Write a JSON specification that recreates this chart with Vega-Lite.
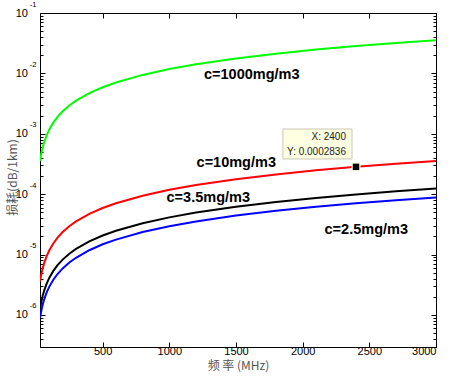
{
  "$schema": "https://vega.github.io/schema/vega-lite/v6.json",
  "width": 396,
  "height": 334,
  "autosize": {"type": "none"},
  "padding": {"left": 40, "top": 13, "right": 17, "bottom": 35},
  "background": "white",
  "config": {
    "view": {"stroke": "#000", "strokeWidth": 1},
    "axis": {"grid": false, "domainColor": "#000", "tickColor": "#000", "labelColor": "#000", "labelFont": "Liberation Sans", "labelFontSize": 11, "titleFont": "Noto Sans CJK SC", "titleFontWeight": "normal", "titleColor": "#555", "titleFontSize": 12}
  },
  "datasets": {
    "curves": [
      {"f": 30, "c": "c=1000mg/m3", "loss": 3.54e-4}, {"f": 40, "c": "c=1000mg/m3", "loss": 4.72e-4}, {"f": 50, "c": "c=1000mg/m3", "loss": 5.9e-4}, {"f": 60, "c": "c=1000mg/m3", "loss": 7.08e-4}, {"f": 80, "c": "c=1000mg/m3", "loss": 9.44e-4}, {"f": 100, "c": "c=1000mg/m3", "loss": 1.18e-3}, {"f": 130, "c": "c=1000mg/m3", "loss": 1.53e-3}, {"f": 160, "c": "c=1000mg/m3", "loss": 1.89e-3}, {"f": 200, "c": "c=1000mg/m3", "loss": 2.36e-3}, {"f": 250, "c": "c=1000mg/m3", "loss": 2.95e-3}, {"f": 300, "c": "c=1000mg/m3", "loss": 3.54e-3}, {"f": 400, "c": "c=1000mg/m3", "loss": 4.72e-3}, {"f": 500, "c": "c=1000mg/m3", "loss": 5.9e-3}, {"f": 600, "c": "c=1000mg/m3", "loss": 7.08e-3}, {"f": 800, "c": "c=1000mg/m3", "loss": 9.44e-3}, {"f": 1000, "c": "c=1000mg/m3", "loss": 1.18e-2}, {"f": 1200, "c": "c=1000mg/m3", "loss": 1.42e-2}, {"f": 1500, "c": "c=1000mg/m3", "loss": 1.77e-2}, {"f": 1800, "c": "c=1000mg/m3", "loss": 2.12e-2}, {"f": 2100, "c": "c=1000mg/m3", "loss": 2.48e-2}, {"f": 2400, "c": "c=1000mg/m3", "loss": 2.83e-2}, {"f": 2700, "c": "c=1000mg/m3", "loss": 3.19e-2}, {"f": 3000, "c": "c=1000mg/m3", "loss": 3.54e-2},
      {"f": 30, "c": "c=10mg/m3", "loss": 3.54e-6}, {"f": 40, "c": "c=10mg/m3", "loss": 4.72e-6}, {"f": 50, "c": "c=10mg/m3", "loss": 5.9e-6}, {"f": 60, "c": "c=10mg/m3", "loss": 7.08e-6}, {"f": 80, "c": "c=10mg/m3", "loss": 9.44e-6}, {"f": 100, "c": "c=10mg/m3", "loss": 1.18e-5}, {"f": 130, "c": "c=10mg/m3", "loss": 1.53e-5}, {"f": 160, "c": "c=10mg/m3", "loss": 1.89e-5}, {"f": 200, "c": "c=10mg/m3", "loss": 2.36e-5}, {"f": 250, "c": "c=10mg/m3", "loss": 2.95e-5}, {"f": 300, "c": "c=10mg/m3", "loss": 3.54e-5}, {"f": 400, "c": "c=10mg/m3", "loss": 4.72e-5}, {"f": 500, "c": "c=10mg/m3", "loss": 5.9e-5}, {"f": 600, "c": "c=10mg/m3", "loss": 7.08e-5}, {"f": 800, "c": "c=10mg/m3", "loss": 9.44e-5}, {"f": 1000, "c": "c=10mg/m3", "loss": 1.18e-4}, {"f": 1200, "c": "c=10mg/m3", "loss": 1.42e-4}, {"f": 1500, "c": "c=10mg/m3", "loss": 1.77e-4}, {"f": 1800, "c": "c=10mg/m3", "loss": 2.12e-4}, {"f": 2100, "c": "c=10mg/m3", "loss": 2.48e-4}, {"f": 2400, "c": "c=10mg/m3", "loss": 2.836e-4}, {"f": 2700, "c": "c=10mg/m3", "loss": 3.19e-4}, {"f": 3000, "c": "c=10mg/m3", "loss": 3.54e-4},
      {"f": 30, "c": "c=3.5mg/m3", "loss": 1.24e-6}, {"f": 40, "c": "c=3.5mg/m3", "loss": 1.65e-6}, {"f": 50, "c": "c=3.5mg/m3", "loss": 2.07e-6}, {"f": 60, "c": "c=3.5mg/m3", "loss": 2.48e-6}, {"f": 80, "c": "c=3.5mg/m3", "loss": 3.3e-6}, {"f": 100, "c": "c=3.5mg/m3", "loss": 4.13e-6}, {"f": 130, "c": "c=3.5mg/m3", "loss": 5.37e-6}, {"f": 160, "c": "c=3.5mg/m3", "loss": 6.61e-6}, {"f": 200, "c": "c=3.5mg/m3", "loss": 8.26e-6}, {"f": 250, "c": "c=3.5mg/m3", "loss": 1.03e-5}, {"f": 300, "c": "c=3.5mg/m3", "loss": 1.24e-5}, {"f": 400, "c": "c=3.5mg/m3", "loss": 1.65e-5}, {"f": 500, "c": "c=3.5mg/m3", "loss": 2.07e-5}, {"f": 600, "c": "c=3.5mg/m3", "loss": 2.48e-5}, {"f": 800, "c": "c=3.5mg/m3", "loss": 3.3e-5}, {"f": 1000, "c": "c=3.5mg/m3", "loss": 4.13e-5}, {"f": 1200, "c": "c=3.5mg/m3", "loss": 4.96e-5}, {"f": 1500, "c": "c=3.5mg/m3", "loss": 6.2e-5}, {"f": 1800, "c": "c=3.5mg/m3", "loss": 7.43e-5}, {"f": 2100, "c": "c=3.5mg/m3", "loss": 8.67e-5}, {"f": 2400, "c": "c=3.5mg/m3", "loss": 9.91e-5}, {"f": 2700, "c": "c=3.5mg/m3", "loss": 1.12e-4}, {"f": 3000, "c": "c=3.5mg/m3", "loss": 1.24e-4},
      {"f": 30, "c": "c=2.5mg/m3", "loss": 8.85e-7}, {"f": 40, "c": "c=2.5mg/m3", "loss": 1.18e-6}, {"f": 50, "c": "c=2.5mg/m3", "loss": 1.48e-6}, {"f": 60, "c": "c=2.5mg/m3", "loss": 1.77e-6}, {"f": 80, "c": "c=2.5mg/m3", "loss": 2.36e-6}, {"f": 100, "c": "c=2.5mg/m3", "loss": 2.95e-6}, {"f": 130, "c": "c=2.5mg/m3", "loss": 3.84e-6}, {"f": 160, "c": "c=2.5mg/m3", "loss": 4.72e-6}, {"f": 200, "c": "c=2.5mg/m3", "loss": 5.9e-6}, {"f": 250, "c": "c=2.5mg/m3", "loss": 7.38e-6}, {"f": 300, "c": "c=2.5mg/m3", "loss": 8.85e-6}, {"f": 400, "c": "c=2.5mg/m3", "loss": 1.18e-5}, {"f": 500, "c": "c=2.5mg/m3", "loss": 1.48e-5}, {"f": 600, "c": "c=2.5mg/m3", "loss": 1.77e-5}, {"f": 800, "c": "c=2.5mg/m3", "loss": 2.36e-5}, {"f": 1000, "c": "c=2.5mg/m3", "loss": 2.95e-5}, {"f": 1200, "c": "c=2.5mg/m3", "loss": 3.54e-5}, {"f": 1500, "c": "c=2.5mg/m3", "loss": 4.43e-5}, {"f": 1800, "c": "c=2.5mg/m3", "loss": 5.31e-5}, {"f": 2100, "c": "c=2.5mg/m3", "loss": 6.2e-5}, {"f": 2400, "c": "c=2.5mg/m3", "loss": 7.08e-5}, {"f": 2700, "c": "c=2.5mg/m3", "loss": 7.97e-5}, {"f": 3000, "c": "c=2.5mg/m3", "loss": 8.85e-5}
    ],
    "labels": [
      {"f": 1618, "loss": 9.4e-3, "text": "c=1000mg/m3"},
      {"f": 1502, "loss": 3.25e-4, "text": "c=10mg/m3"},
      {"f": 1292, "loss": 8.75e-5, "text": "c=3.5mg/m3"},
      {"f": 2477, "loss": 2.55e-5, "text": "c=2.5mg/m3"}
    ],
    "tip": [{"f": 2400, "loss": 2.836e-4}],
    "tiptext": [
      {"f": 2325, "loss": 8.85e-4, "text": "X: 2400"},
      {"f": 2325, "loss": 5.0e-4, "text": "Y: 0.0002836"}
    ]
  },
  "resolve": {"axis": {"x": "independent", "y": "independent"}},
  "layer": [
    {
      "data": {"name": "curves"},
      "mark": {"type": "line", "strokeWidth": 2, "clip": true},
      "encoding": {
        "x": {"field": "f", "type": "quantitative", "scale": {"domain": [30, 3000], "nice": false, "zero": false},
          "axis": {"orient": "bottom", "values": [500, 1000, 1500, 2000, 2500, 3000], "format": "d", "tickSize": -5, "labelPadding": 3, "title": "频 率 (MHz)", "titlePadding": 4}},
        "y": {"field": "loss", "type": "quantitative", "scale": {"type": "log", "domain": [2.95e-7, 0.1], "nice": false},
          "axis": {"orient": "left", "values": [0.000001, 0.00001, 0.0001, 0.001, 0.01, 0.1], "ticks": false, "labelPadding": 12.5,
            "labelExpr": "'10'",
            "title": "损耗(dB/1km)", "titleX": -28, "titleY": 164, "titleAlign": "center", "titleBaseline": "middle"}},
        "color": {"field": "c", "type": "nominal", "legend": null,
          "scale": {"domain": ["c=1000mg/m3", "c=10mg/m3", "c=3.5mg/m3", "c=2.5mg/m3"], "range": ["#00FF00", "#FF0000", "#000000", "#0000FF"]}}
      }
    },
    {
      "data": {"name": "labels"},
      "mark": {"type": "text", "font": "Liberation Sans", "fontWeight": "bold", "fontSize": 14.5, "align": "center", "baseline": "middle", "color": "#000"},
      "encoding": {
        "x": {"field": "f", "type": "quantitative", "axis": {"orient": "top", "values": [500, 1000, 1500, 2000, 2500, 3000], "tickSize": -5, "labels": false, "title": null}},
        "y": {"field": "loss", "type": "quantitative", "axis": {"orient": "right", "values": [0.000001, 0.00001, 0.0001, 0.001, 0.01, 0.1], "tickSize": -5, "labels": false, "title": null}},
        "text": {"field": "text", "type": "nominal"}
      }
    },
    {
      "data": {"values": [{"a": 1}]},
      "mark": {"type": "rect", "fill": "#FFFFE1", "stroke": "#C8C8B4", "strokeWidth": 1},
      "encoding": {
        "x": {"datum": 1852, "type": "quantitative", "axis": null},
        "x2": {"datum": 2370},
        "y": {"datum": 0.0012, "type": "quantitative", "axis": {"orient": "left", "values": [3e-7,4e-7,5e-7,6e-7,7e-7,8e-7,9e-7,2e-6,3e-6,4e-6,5e-6,6e-6,7e-6,8e-6,9e-6,2e-5,3e-5,4e-5,5e-5,6e-5,7e-5,8e-5,9e-5,2e-4,3e-4,4e-4,5e-4,6e-4,7e-4,8e-4,9e-4,2e-3,3e-3,4e-3,5e-3,6e-3,7e-3,8e-3,9e-3,2e-2,3e-2,4e-2,5e-2,6e-2,7e-2,8e-2,9e-2], "tickSize": -3, "labels": false, "domain": false, "title": null}},
        "y2": {"datum": 0.000383}
      }
    },
    {
      "data": {"name": "tiptext"},
      "mark": {"type": "text", "font": "Liberation Sans", "fontSize": 10, "align": "right", "baseline": "middle", "color": "#222"},
      "encoding": {
        "x": {"field": "f", "type": "quantitative", "axis": null},
        "y": {"field": "loss", "type": "quantitative", "axis": {"orient": "right", "values": [3e-7,4e-7,5e-7,6e-7,7e-7,8e-7,9e-7,2e-6,3e-6,4e-6,5e-6,6e-6,7e-6,8e-6,9e-6,2e-5,3e-5,4e-5,5e-5,6e-5,7e-5,8e-5,9e-5,2e-4,3e-4,4e-4,5e-4,6e-4,7e-4,8e-4,9e-4,2e-3,3e-3,4e-3,5e-3,6e-3,7e-3,8e-3,9e-3,2e-2,3e-2,4e-2,5e-2,6e-2,7e-2,8e-2,9e-2], "tickSize": -3, "labels": false, "domain": false, "title": null}},
        "text": {"field": "text", "type": "nominal"}
      }
    },
    {
      "data": {"name": "tip"},
      "mark": {"type": "square", "size": 81, "filled": true, "color": "#FFFFE1", "opacity": 1},
      "encoding": {
        "x": {"field": "f", "type": "quantitative", "axis": null},
        "y": {"field": "loss", "type": "quantitative", "axis": {"orient": "left", "values": [0.000001, 0.00001, 0.0001, 0.001, 0.01, 0.1], "tickSize": -5, "labels": false, "domain": false, "title": null}}
      }
    },
    {
      "data": {"name": "tip"},
      "mark": {"type": "square", "size": 42, "filled": true, "color": "#000", "opacity": 1},
      "encoding": {
        "x": {"field": "f", "type": "quantitative", "axis": null},
        "y": {"field": "loss", "type": "quantitative", "axis": {"orient": "left", "values": [0.000001, 0.00001, 0.0001, 0.001, 0.01, 0.1], "ticks": false, "domain": false, "labelPadding": 4, "labelFontSize": 7.5, "labelOffset": -9, "labelExpr": "'-' + (-round(log(datum.value)/LN10))", "title": null}}
      }
    }
  ]
}
